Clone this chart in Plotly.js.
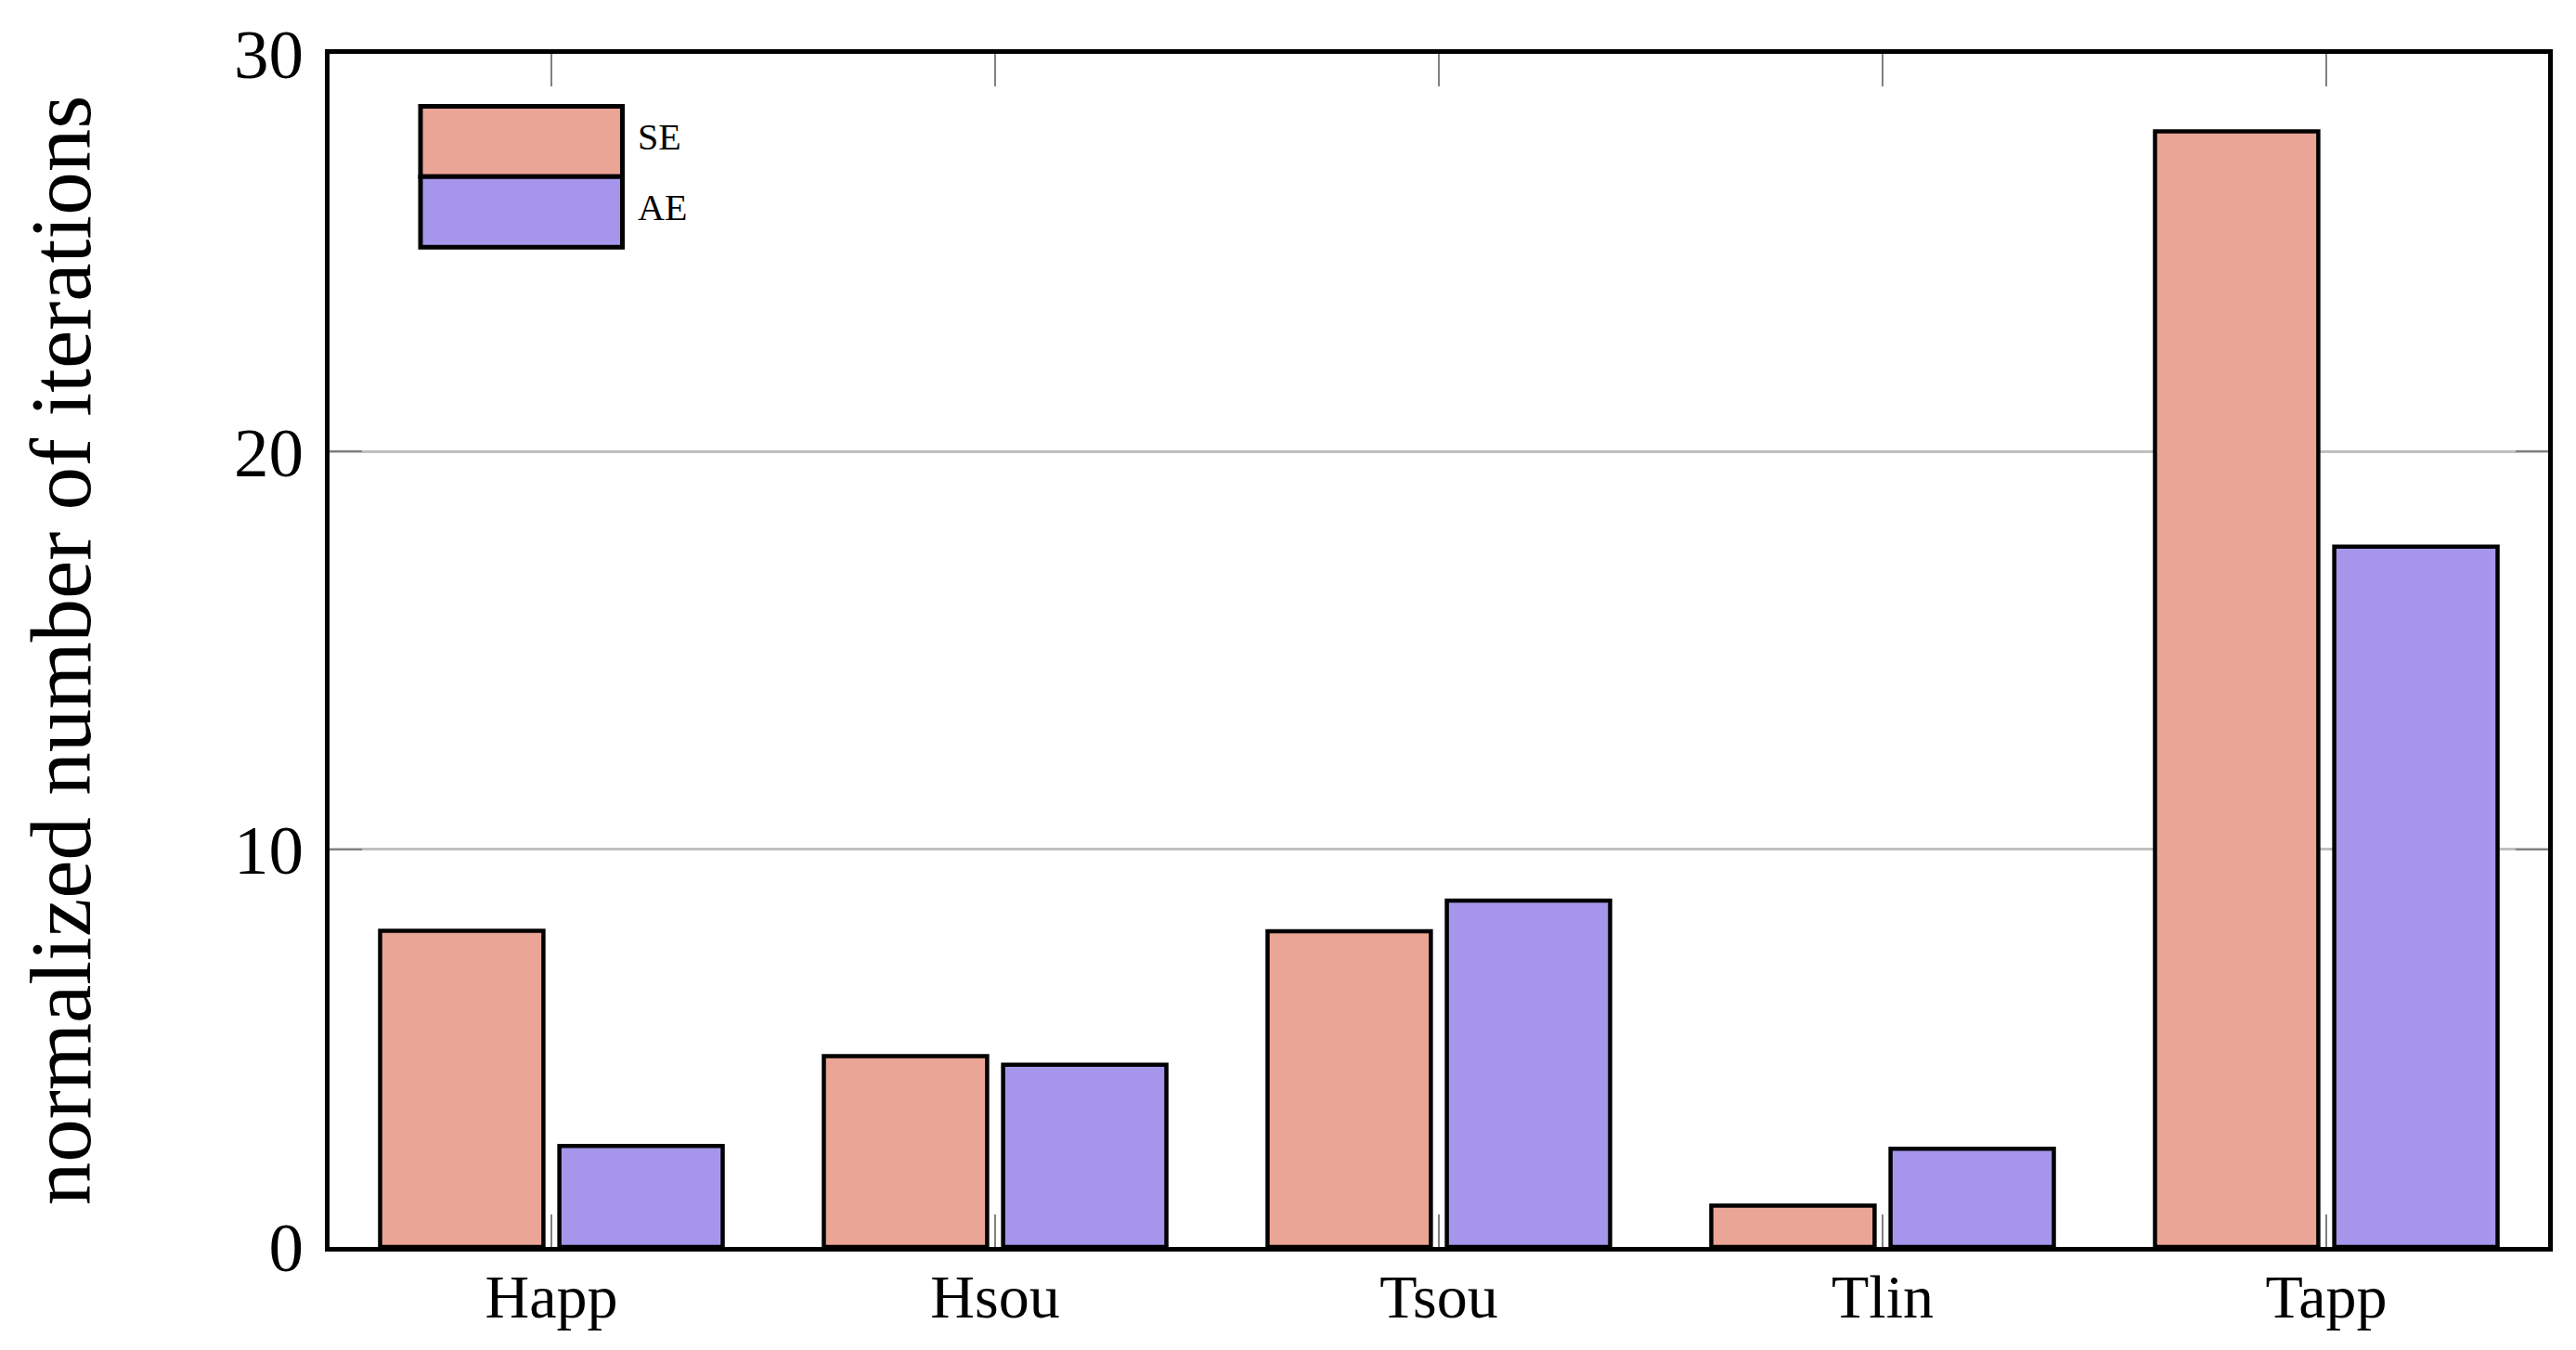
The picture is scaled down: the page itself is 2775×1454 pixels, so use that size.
<!DOCTYPE html>
<html>
<head>
<meta charset="utf-8">
<script src="https://cdn.plot.ly/plotly-3.0.1.min.js"></script>
<style>
  html, body { margin: 0; padding: 0; background: #fff; }
  #chart { width: 2775px; height: 1454px; }
</style>
</head>
<body>
<div id="chart"></div>
<script>
// data
const categories = ["Happ", "Hsou", "Tsou", "Tlin", "Tapp"];
const seriesNames = ["SE", "AE"];
const seValues = [7.95, 4.80, 7.94, 1.04, 28.05];
const aeValues = [2.54, 4.58, 8.71, 2.47, 17.61];
const yTickVals = [0, 10, 20, 30];

const colors = { SE: "#eba596", AE: "#a696eb" };
const FONT = "Liberation Serif, Times New Roman, serif";

const BAR_W = 0.368;
const BAR_GAP = 0.018;

function barTrace(name, values, offset) {
  return {
    type: "bar",
    name: name,
    x: categories,
    y: values,
    width: BAR_W,
    offset: offset,
    marker: { color: colors[name], line: { color: "#000", width: 4.5 } },
    hoverinfo: "x+y+name",
  };
}

const traces = [
  barTrace("SE", seValues, -BAR_W - BAR_GAP),
  barTrace("AE", aeValues, BAR_GAP),
];

// ── legend drawn as big swatches (plotly's own bar swatch is fixed at 12px) ──
const leg = { x0: 0.041, x1: 0.132, top: 0.956, h: 0.059, textX: 0.138 };
const legendShapes = [];
const legendNotes = [];
seriesNames.forEach((name, i) => {
  const y1 = leg.top - i * leg.h;
  legendShapes.push({
    type: "rect", xref: "paper", yref: "paper",
    x0: leg.x0, x1: leg.x1, y0: y1 - leg.h, y1: y1,
    fillcolor: colors[name], line: { color: "#000", width: 5 },
    layer: "above",
  });
  legendNotes.push({
    xref: "paper", yref: "paper", x: leg.textX, y: y1 - leg.h / 2 + 0.004,
    xanchor: "left", yanchor: "middle", showarrow: false,
    text: name, font: { family: FONT, size: 40, color: "#000" },
  });
});

const layout = {
  width: 2775,
  height: 1454,
  margin: { l: 355, r: 30, t: 58, b: 111 },
  paper_bgcolor: "#fff",
  plot_bgcolor: "#fff",
  font: { family: FONT, color: "#000" },
  barmode: "overlay",
  showlegend: false,
  xaxis: {
    range: [-0.5, 4.5],
    showgrid: false,
    showline: true, linecolor: "#000", linewidth: 5,
    mirror: "ticks",
    ticks: "inside", ticklen: 35, tickwidth: 2, tickcolor: "#808080",
    tickfont: { family: FONT, size: 66, color: "#000" },
    ticklabelstandoff: -8,
    zeroline: false,
  },
  yaxis: {
    range: [0, 30],
    tickvals: yTickVals,
    showgrid: true, gridcolor: "#bfbfbf", gridwidth: 3,
    showline: true, linecolor: "#000", linewidth: 5,
    mirror: "ticks",
    ticks: "inside", ticklen: 35, tickwidth: 2, tickcolor: "#808080",
    tickfont: { family: FONT, size: 75, color: "#000" },
    ticklabelstandoff: 8,
    zeroline: false,
    title: { text: "normalized number of iterations", font: { family: FONT, size: 93, color: "#000" }, standoff: 125 },
  },
  shapes: legendShapes,
  annotations: legendNotes,
};

Plotly.newPlot("chart", traces, layout, { displayModeBar: false, staticPlot: true });
</script>
</body>
</html>
